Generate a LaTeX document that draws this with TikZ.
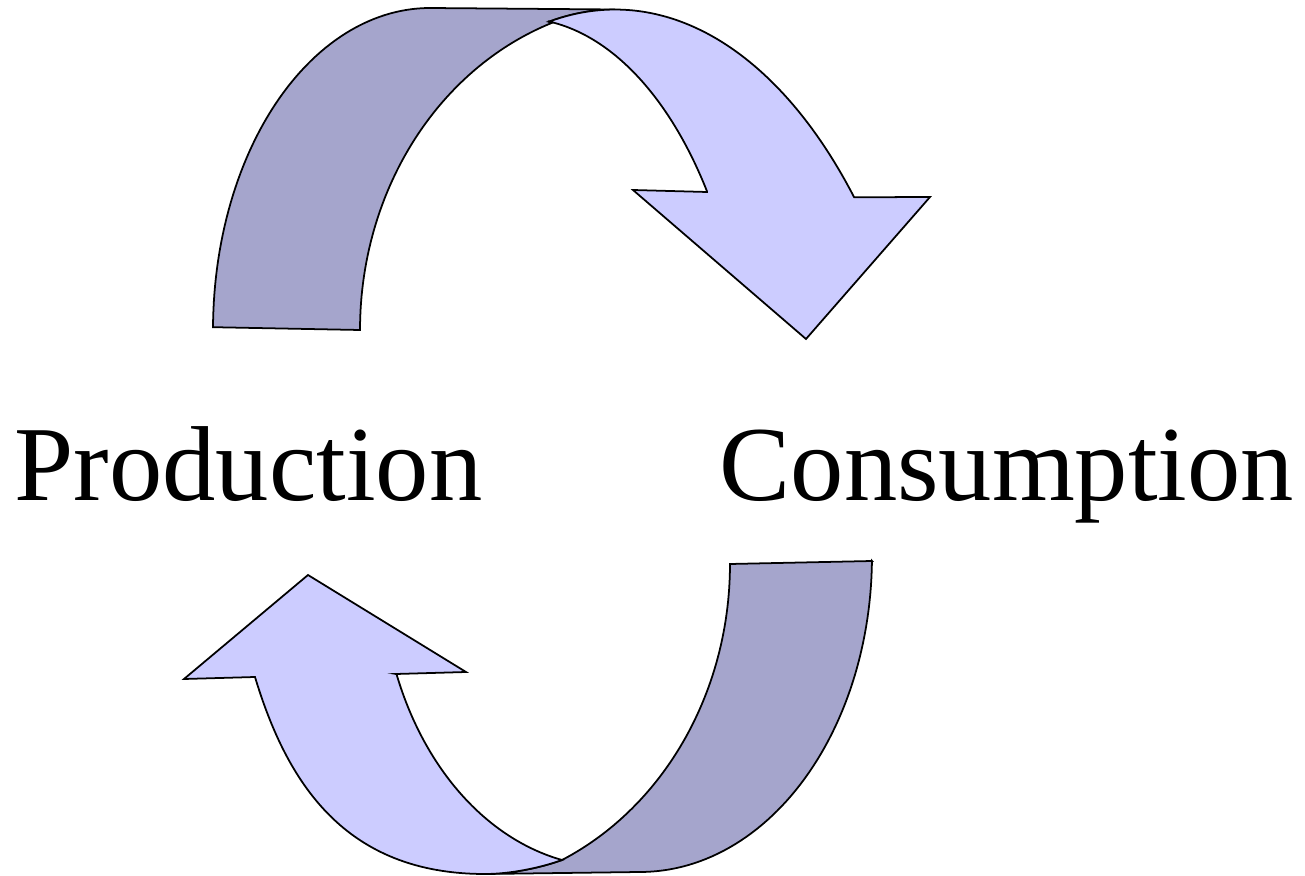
\documentclass[tikz,border=0pt]{standalone}
\usepackage{fontspec}
\setmainfont{Liberation Serif}
\definecolor{ribbonback}{RGB}{165,165,204}
\definecolor{ribbonfront}{RGB}{204,204,255}

\begin{document}
\begin{tikzpicture}[x=0.01cm,y=-0.01cm]
        \tikzstyle{backface}=[draw,fill=ribbonback,line width=0.5pt]
        \tikzstyle{frontface}=[draw,fill=ribbonfront,line width=0.5pt]
        \tikzstyle{word}=[inner sep=0pt,anchor=base west,font=\fontsize{30.3}{36}\selectfont]
        \useasboundingbox (0,0) rectangle (1305,876);
        % upper arrow, production -> consumption
        \path [backface] plot [domain=179.5:90,samples=60,variable=\t] ({430+217*cos(\t)},{330-322*sin(\t)})
            -- (615,9.5)
            -- plot [domain=90:101.64,samples=10,variable=\t] ({615+327*cos(\t)},{600-590.5*sin(\t)})
            -- plot [domain=109.54:180,samples=60,variable=\t] ({650+290*cos(\t)},{330-326.4*sin(\t)})
            -- cycle;
        \path [frontface] plot [domain=101.64:43,samples=60,variable=\t] ({615+327*cos(\t)},{600-590.5*sin(\t)})
            -- (930,197) -- (806,339) -- (633,190) -- (707,192)
            -- plot [domain=35.43:82.74,samples=60,variable=\t] ({520+229.5*cos(\t)},{430-411.8*sin(\t)})
            -- cycle;
        % lower arrow, consumption -> production
        \path [backface] (730,564) -- (872,561)
            -- plot [domain=-0.9:-90,samples=60,variable=\t] ({640+232*cos(\t)},{556-316*sin(\t)})
            -- (485,874) .. controls (510,874) and (540,868) .. (562,860)
            -- plot [domain=-65.12:0,samples=60,variable=\t] ({440+290*cos(\t)},{564-326.3*sin(\t)})
            -- cycle;
        \path [frontface] (308,575) -- (466,672) -- (396,674)
            -- plot [domain=201.2:257.9,samples=60,variable=\t] ({610+229*cos(\t)},{565-301.7*sin(\t)})
            .. controls (540,868) and (510,874) .. (485,874)
            .. controls (345,874) and (287,783) .. (255,677) -- (184,679) -- cycle;
        \node [word] (prod) at (14,501) {Production};
        \node [word] (cons) at (719,501) {Consumption};
\end{tikzpicture}
\end{document}
